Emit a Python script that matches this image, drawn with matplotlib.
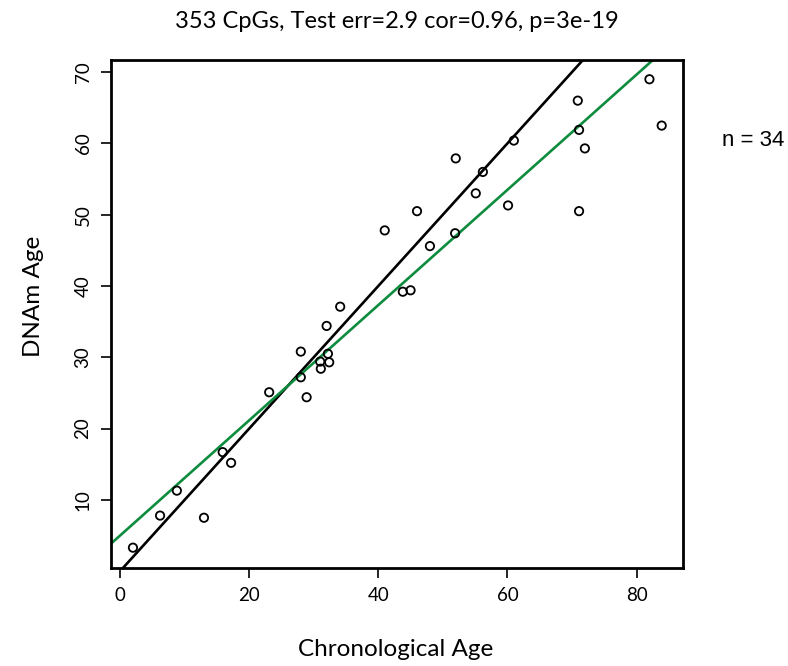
import numpy as np
import matplotlib
matplotlib.use("Agg")
import matplotlib.pyplot as plt

chron_age = [2.0, 6.2, 8.8, 13.0, 15.9, 17.2, 23.1, 28.0, 28.0, 28.9, 31.0, 31.1,
             32.0, 32.2, 32.4, 34.1, 41.0, 43.8, 45.0, 46.0, 48.0, 52.0, 51.9,
             55.1, 56.2, 60.1, 61.0, 70.9, 71.1, 71.1, 72.0, 82.0, 83.9]
dnam_age = [3.3, 7.8, 11.3, 7.5, 16.7, 15.2, 25.1, 30.8, 27.2, 24.4, 29.4, 28.4,
            34.4, 30.5, 29.3, 37.1, 47.8, 39.2, 39.4, 50.5, 45.6, 57.9, 47.4,
            53.0, 56.0, 51.3, 60.4, 66.0, 61.9, 50.5, 59.3, 69.0, 62.5]
x_ticks = [0, 20, 40, 60, 80]
y_ticks = [10, 20, 30, 40, 50, 60, 70]
title = "353 CpGs, Test err=2.9 cor=0.96, p=3e-19"
n_label = "n = 34"

fig = plt.figure(figsize=(7.88, 6.66), dpi=100)
ax = fig.add_axes([111/788, 1-568/666, (683-111)/788, (568-60)/666])

ax.scatter(chron_age, dnam_age, s=36, facecolors='none', edgecolors='black', linewidths=1.3, zorder=3)
ax.axline((0, 0), slope=1, color='black', lw=1.9)
slope, intercept = np.polyfit(chron_age, dnam_age, 1)
ax.axline((0, intercept), slope=slope, color='#0e8c3e', lw=1.9)

ax.set_xlim(-1.4, 87.2)
ax.set_ylim(0.45, 71.7)
ax.set_xticks(x_ticks)
ax.set_yticks(y_ticks)
for s in ax.spines.values():
    s.set_linewidth(2.0)
ax.tick_params(direction='out', length=7, width=1.2, labelsize=13.5)
for lab in ax.get_xticklabels() + ax.get_yticklabels():
    lab.set_fontfamily('Lato')
plt.setp(ax.get_yticklabels(), rotation=90, va='center')
ax.tick_params(axis='y', pad=7)
ax.tick_params(axis='x', pad=7)

fig.text(397/788, 1-22/666, title, ha='center', va='center', fontsize=17, family='Lato')
fig.text(396/788, 1-650/666, "Chronological Age", ha='center', va='center', fontsize=17.5, family='Lato')
fig.text(33/788, 1-296/666, "DNAm Age", ha='center', va='center', rotation=90, fontsize=17.5, family='Lato')
fig.text(722/788, 1-140/666, n_label, ha='left', va='center', fontsize=16, family='Liberation Sans')

fig.savefig("out.png", dpi=100)
